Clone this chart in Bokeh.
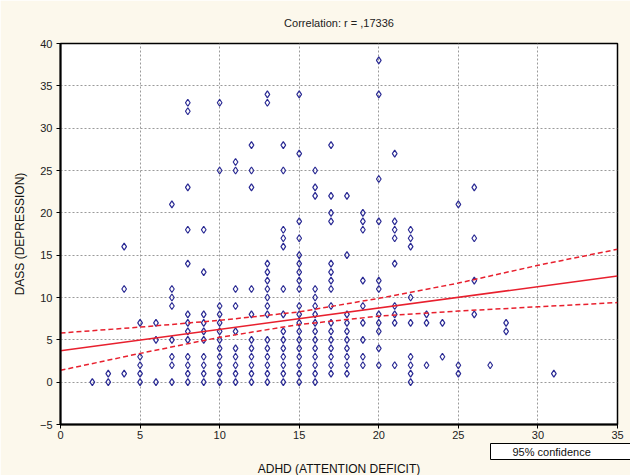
from bokeh.plotting import figure
from bokeh.models import Range1d, FixedTicker, Title
from bokeh.embed import file_html
from bokeh.resources import INLINE

# ---- data ----
adhd = [
    2,
    3, 3,
    4, 4, 4,
    5, 5, 5, 5, 5,
    6, 6, 6,
    7, 7, 7, 7, 7, 7, 7, 7,
    8, 8, 8, 8, 8, 8, 8, 8, 8, 8, 8, 8, 8,
    9, 9, 9, 9, 9, 9, 9, 9, 9, 9,
    10, 10, 10, 10, 10, 10, 10, 10, 10, 10, 10, 10,
    11, 11, 11, 11, 11, 11, 11, 11, 11, 11,
    12, 12, 12, 12, 12, 12, 12, 12, 12, 12, 12,
    13, 13, 13, 13, 13, 13, 13, 13, 13, 13, 13, 13, 13, 13, 13,
    14, 14, 14, 14, 14, 14, 14, 14, 14, 14, 14, 14, 14, 14,
    15, 15, 15, 15, 15, 15, 15, 15, 15, 15, 15, 15, 15, 15, 15, 15, 15, 15, 15,
    16, 16, 16, 16, 16, 16, 16, 16, 16, 16, 16, 16, 16, 16, 16,
    17, 17, 17, 17, 17, 17, 17, 17, 17, 17, 17, 17, 17, 17, 17, 17,
    18, 18, 18, 18, 18, 18, 18, 18, 18, 18,
    19, 19, 19, 19, 19, 19, 19, 19, 19,
    20, 20, 20, 20, 20, 20, 20, 20, 20, 20, 20,
    21, 21, 21, 21, 21, 21, 21, 21, 21,
    22, 22, 22, 22, 22, 22, 22, 22, 22,
    23, 23, 23,
    24, 24,
    25, 25, 25,
    26, 26, 26, 26,
    27,
    28, 28,
    31,
]
dass = [
    0,
    0, 1,
    1, 11, 16,
    0, 1, 2, 3, 7,
    0, 5, 7,
    0, 2, 3, 5, 9, 10, 11, 21,
    0, 1, 2, 3, 5, 6, 7, 8, 14, 18, 23, 32, 33,
    0, 1, 2, 3, 5, 6, 7, 8, 13, 18,
    0, 1, 2, 3, 4, 5, 6, 7, 8, 9, 25, 33,
    0, 1, 2, 3, 4, 6, 9, 11, 25, 26,
    0, 1, 2, 3, 4, 5, 8, 11, 23, 25, 28,
    0, 1, 2, 3, 4, 5, 8, 9, 10, 11, 12, 13, 14, 33, 34,
    0, 1, 2, 3, 4, 5, 6, 8, 11, 16, 17, 18, 25, 28,
    0, 1, 2, 3, 4, 5, 6, 7, 8, 9, 11, 12, 13, 14, 15, 17, 19, 27, 34,
    0, 1, 2, 3, 4, 5, 6, 7, 8, 9, 10, 11, 22, 23, 25,
    1, 2, 3, 4, 5, 6, 7, 9, 11, 12, 13, 14, 19, 20, 22, 28,
    1, 2, 3, 4, 5, 6, 7, 8, 15, 22,
    2, 3, 5, 7, 9, 12, 18, 19, 20,
    2, 4, 6, 7, 8, 11, 12, 19, 24, 34, 38,
    2, 7, 8, 9, 14, 17, 18, 19, 27,
    0, 1, 2, 3, 7, 10, 16, 17, 18,
    2, 7, 8,
    3, 7,
    1, 2, 21,
    8, 12, 17, 23,
    2,
    6, 7,
    1,
]

# regression line and 95% confidence band
fit_x = [0, 35]
fit_y = [3.7, 12.55]
band_x = [0, 5, 10, 15, 20, 25, 30, 35]
band_upper = [5.8, 6.5, 7.3, 8.3, 9.9, 11.7, 13.8, 15.7]
band_lower = [1.4, 3.4, 5.3, 6.8, 7.8, 8.4, 8.9, 9.4]

x_ticks = [0, 5, 10, 15, 20, 25, 30, 35]
y_ticks = [-5, 0, 5, 10, 15, 20, 25, 30, 35, 40]

title_text = "Correlation: r = ,17336"
x_label = "ADHD (ATTENTION DEFICIT)"
y_label = "DASS (DEPRESSION)"
legend_text = "95% confidence"

FONT = "Liberation Sans"
CREAM = "#fcf8ec"

p = figure(width=630, height=475, output_backend="svg", toolbar_location=None,
           x_range=Range1d(0, 35), y_range=Range1d(-5, 40),
           min_border_left=60, min_border_right=13, min_border_top=43, min_border_bottom=51,
           background_fill_color="white", border_fill_color=CREAM,
           outline_line_color="black", outline_line_width=1.5)

p.title.text = title_text
p.title.align = "center"
p.title.vertical_align = "top"
p.title.text_font = FONT
p.title.text_font_size = "11px"
p.title.text_font_style = "normal"
p.title.text_color = "#222222"
p.title.offset = 0
p.title.standoff = 26

for ax, ticks in ((p.xaxis[0], x_ticks), (p.yaxis[0], y_ticks)):
    ax.ticker = FixedTicker(ticks=ticks)
    ax.axis_line_color = "black"
    ax.axis_line_width = 2
    ax.major_tick_line_color = "black"
    ax.major_tick_out = 4
    ax.major_tick_in = 0
    ax.minor_tick_line_color = None
    ax.major_label_text_font = FONT
    ax.major_label_text_font_size = "11px"
    ax.major_label_text_color = "#222222"
    ax.axis_label_text_font = FONT
    ax.axis_label_text_font_size = "12px"
    ax.axis_label_text_font_style = "normal"
    ax.axis_label_text_color = "#111111"

p.yaxis.axis_label = y_label
p.xaxis.major_label_standoff = 2
p.yaxis.major_label_standoff = 4
p.yaxis.axis_label_standoff = 10

p.xgrid[0].ticker = FixedTicker(ticks=x_ticks)
p.ygrid[0].ticker = FixedTicker(ticks=y_ticks)
for g in (p.xgrid[0], p.ygrid[0]):
    g.grid_line_color = "#9a9a9a"
    g.grid_line_dash = "2 2"
    g.grid_line_width = 1

# scatter
p.scatter(adhd, dass, marker="diamond", size=7, fill_color="white", fill_alpha=0.0,
          line_color="#2b2b94", line_width=1.2)

# regression + band
p.line(fit_x, fit_y, line_color="#e8202e", line_width=1.5)
p.line(band_x, band_upper, line_color="#e8202e", line_width=1.5, line_dash="5 3")
p.line(band_x, band_lower, line_color="#e8202e", line_width=1.5, line_dash="5 3")

# bottom rows: legend box (right) and x-axis title (centre)
legend_title = Title(text=legend_text, align="left", offset=430, standoff=0,
                     text_font=FONT, text_font_size="11px", text_font_style="normal",
                     text_color="#111111", background_fill_color="white",
                     border_line_color="black", border_line_width=1,
                     padding=dict(left=22, right=40, top=2, bottom=2))
p.add_layout(legend_title, "below")
xlabel_title = Title(text=x_label, align="center", standoff=0,
                     text_font=FONT, text_font_size="12px", text_font_style="normal",
                     text_color="#111111")
p.add_layout(xlabel_title, "below")

open("out.html", "w").write(file_html(p, INLINE))
